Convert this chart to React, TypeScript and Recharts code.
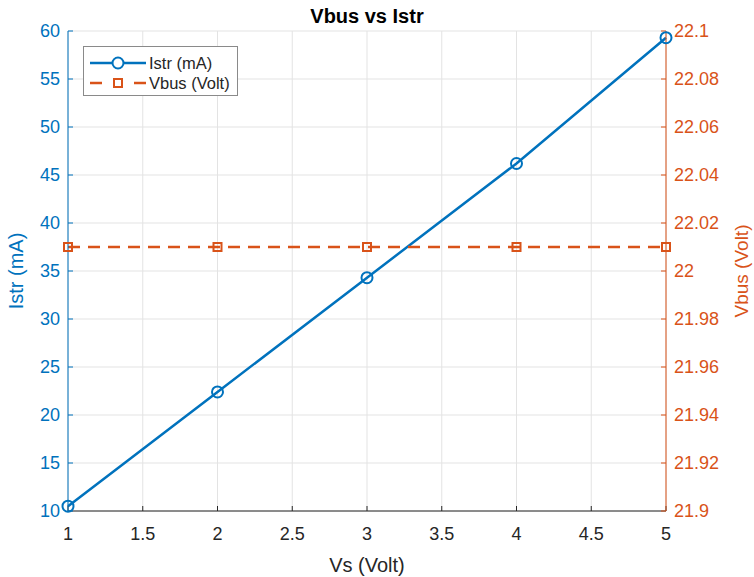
import React from 'react';
import { LineChart, Line, XAxis, YAxis, CartesianGrid } from 'recharts';

const vsVolt = [1, 2, 3, 4, 5];
const istrMa = [10.5, 22.4, 34.3, 46.2, 59.3];
const vbusVolt = [22.01, 22.01, 22.01, 22.01, 22.01];

const xTicks = [1, 1.5, 2, 2.5, 3, 3.5, 4, 4.5, 5];
const istrTicks = [10, 15, 20, 25, 30, 35, 40, 45, 50, 55, 60];
const vbusTicks = [21.9, 21.92, 21.94, 21.96, 21.98, 22, 22.02, 22.04, 22.06, 22.08, 22.1];

const BLUE = '#0072BD';
const ORANGE = '#D95319';
const DARK = '#262626';
const FONT = '"Liberation Sans", Arial, sans-serif';

const data = vsVolt.map((x, i) => ({ x, istr: istrMa[i], vbus: vbusVolt[i] }));

const SquareDot = (props: any) => {
  const { cx, cy, index } = props;
  if (cx == null || cy == null) return null;
  return (
    <rect
      key={`sq-${index}`}
      x={cx - 4}
      y={cy - 4}
      width={8}
      height={8}
      fill="none"
      stroke={ORANGE}
      strokeWidth={2}
    />
  );
};

function LegendBox() {
  return (
    <div
      style={{
        position: 'absolute',
        left: 83,
        top: 46,
        width: 155,
        height: 50,
        border: '1px solid #8a8a8a',
        background: '#fff',
        fontFamily: FONT,
        fontSize: 16.5,
        color: DARK,
        boxSizing: 'border-box',
      }}
    >
      <svg width={64} height={48} style={{ position: 'absolute', left: 0, top: 0 }}>
        <line x1={6} y1={16} x2={62} y2={16} stroke={BLUE} strokeWidth={2.5} />
        <circle cx={34} cy={16} r={5.5} fill="#fff" stroke={BLUE} strokeWidth={2} />
        <line x1={6} y1={36} x2={18} y2={36} stroke={ORANGE} strokeWidth={2.5} />
        <line x1={50} y1={36} x2={62} y2={36} stroke={ORANGE} strokeWidth={2.5} />
        <rect x={30} y={32} width={8} height={8} fill="#fff" stroke={ORANGE} strokeWidth={2} />
      </svg>
      <div style={{ position: 'absolute', left: 65, top: 6, lineHeight: '20px' }}>Istr (mA)</div>
      <div style={{ position: 'absolute', left: 65, top: 26, lineHeight: '20px' }}>Vbus (Volt)</div>
    </div>
  );
}

export default function App() {
  return (
    <div
      style={{
        position: 'absolute',
        left: 0,
        top: 0,
        width: 754,
        height: 577,
        background: '#fff',
        fontFamily: FONT,
      }}
    >
      <div
        style={{
          position: 'absolute',
          left: 68,
          top: 6,
          width: 598,
          textAlign: 'center',
          fontSize: 20,
          fontWeight: 'bold',
          lineHeight: '20px',
          color: '#000',
        }}
      >
        Vbus vs Istr
      </div>
      <LineChart
        width={754}
        height={577}
        data={data}
        margin={{ top: 31, right: 0, bottom: 0, left: 0 }}
        style={{ fontFamily: FONT }}
      >
        <CartesianGrid yAxisId="left" stroke="#e3e3e3" strokeWidth={1} />
        <XAxis
          dataKey="x"
          type="number"
          domain={[1, 5]}
          ticks={xTicks}
          height={66}
          stroke={DARK}
          tickSize={-5}
          tickMargin={21}
          tick={{ fill: DARK, fontSize: 18 }}
          label={{ value: 'Vs (Volt)', position: 'insideBottom', offset: 5, fill: DARK, fontSize: 20 }}
        />
        <XAxis
          xAxisId="top"
          orientation="top"
          dataKey="x"
          type="number"
          domain={[1, 5]}
          ticks={xTicks}
          height={0}
          stroke={DARK}
          tickSize={-5}
          tickFormatter={() => ''}
        />
        <YAxis
          yAxisId="left"
          type="number"
          domain={[10, 60]}
          ticks={istrTicks}
          width={68}
          stroke={BLUE}
          tickSize={-5}
          tickMargin={13}
          tick={{ fill: BLUE, fontSize: 18 }}
          label={{
            value: 'Istr (mA)',
            angle: -90,
            position: 'insideLeft',
            offset: 16,
            fill: BLUE,
            fontSize: 20,
            style: { textAnchor: 'middle' },
          }}
        />
        <YAxis
          yAxisId="right"
          orientation="right"
          type="number"
          domain={[21.9, 22.1]}
          ticks={vbusTicks}
          width={88}
          stroke={ORANGE}
          tickSize={-5}
          tickMargin={13}
          tick={{ fill: ORANGE, fontSize: 18 }}
          label={{
            value: 'Vbus (Volt)',
            angle: -90,
            position: 'insideRight',
            offset: 13,
            fill: ORANGE,
            fontSize: 19,
            style: { textAnchor: 'middle' },
          }}
        />
        <Line
          yAxisId="left"
          dataKey="istr"
          stroke={BLUE}
          strokeWidth={2.5}
          dot={{ r: 5.5, fill: 'none', stroke: BLUE, strokeWidth: 2 }}
          activeDot={false}
          isAnimationActive={false}
        />
        <Line
          yAxisId="right"
          dataKey="vbus"
          stroke={ORANGE}
          strokeWidth={2.5}
          strokeDasharray="12 8"
          dot={<SquareDot />}
          activeDot={false}
          isAnimationActive={false}
        />
      </LineChart>
      <LegendBox />
    </div>
  );
}
